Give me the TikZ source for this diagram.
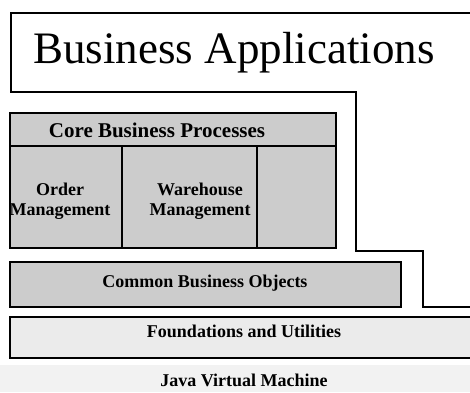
\documentclass[tikz,border=0pt]{standalone}
\usepackage{fontspec}
\setmainfont{Liberation Serif}
\usetikzlibrary{positioning}

\begin{document}
\begin{tikzpicture}[x=0.5pt,y=-0.5pt,
    frame/.style={line width=.9pt},
    layer/.style={draw,line width=.9pt,fill=black!20},
    label/.style={anchor=base,inner sep=0pt,font=\bfseries\fontsize{9}{10}\selectfont,align=center}]
    \useasboundingbox (0,0) rectangle (470,392);

    % Java Virtual Machine (band without border)
    \fill[black!5] (0,365) rectangle (470,392);
    \node[label] (jvm) at (244,386) {Java Virtual Machine};

    % Foundations and Utilities
    \draw[layer,fill=black!8] (10,317) rectangle (475,358);
    \node[label] (found) at (244,337) {Foundations and Utilities};

    % Common Business Objects
    \draw[layer] (10,262) rectangle (401,307);
    \node[label] (cbo) at (205,287) {Common Business Objects};

    % Core Business Processes
    \draw[layer] (10,113) rectangle (336,248);
    \draw[frame] (10,146) -- (336,146);
    \draw[frame] (122,146) -- (122,248);
    \draw[frame] (257,146) -- (257,248);
    \node[label,font=\bfseries\fontsize{10.5}{12}\selectfont] (core) at (157,137) {Core Business Processes};
    \node[label] (order) at (60,215) {Order\\Management};
    \node[label] (wh) at (200,215) {Warehouse\\Management};

    % Business Applications outline
    \draw[frame] (475,13) -- (11,13) -- (11,92) -- (356,92) -- (356,251)
        -- (423,251) -- (423,307) -- (475,307);
    \node[anchor=base,inner sep=0pt,font=\fontsize{22.5}{26}\selectfont] (apps) at (234,63) {Business Applications};
\end{tikzpicture}
\end{document}
